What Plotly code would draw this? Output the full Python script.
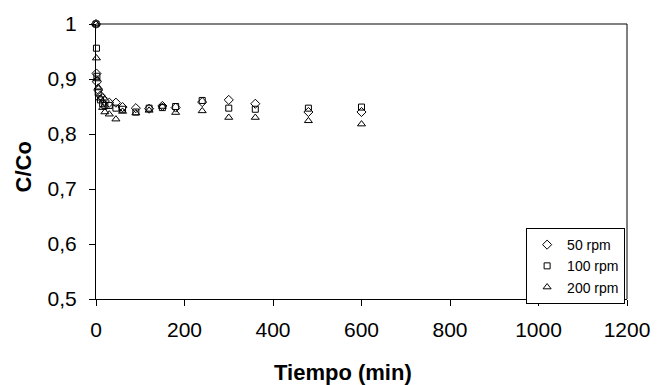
import plotly.graph_objects as go

tiempo = [0, 1, 2, 5, 10, 15, 20, 30, 45, 60, 90, 120, 150, 180, 240, 300, 360, 480, 600]
rpm50 = [1.0, 0.910, 0.895, 0.880, 0.870, 0.865, 0.860, 0.857, 0.857, 0.849, 0.847, 0.846, 0.851, 0.848, 0.858, 0.862, 0.855, 0.840, 0.840]
rpm100 = [1.0, 0.956, 0.905, 0.875, 0.862, 0.855, 0.852, 0.852, 0.847, 0.845, 0.840, 0.847, 0.848, 0.850, 0.861, 0.847, 0.845, 0.847, 0.849]
rpm200 = [1.0, 0.938, 0.900, 0.885, 0.865, 0.848, 0.840, 0.836, 0.827, 0.841, 0.838, 0.843, 0.850, 0.839, 0.842, 0.830, 0.830, 0.824, 0.818]

series = [("50 rpm", rpm50, "diamond-open", 7),
          ("100 rpm", rpm100, "square-open", 6),
          ("200 rpm", rpm200, "triangle-up-open", 7)]

fig = go.Figure()
for name, vals, sym, sz in series:
    fig.add_trace(go.Scatter(x=tiempo, y=vals, mode="markers", name=name,
                             cliponaxis=False,
                             marker=dict(symbol=sym, size=sz, color="black",
                                         line=dict(color="black", width=1))))

font = "Liberation Sans, Arial, sans-serif"
fig.update_layout(
    width=662, height=385,
    margin=dict(l=96, r=29, t=24, b=86),
    paper_bgcolor="white", plot_bgcolor="white",
    separators=",.",
    font=dict(family=font, size=21, color="black"),
    showlegend=True,
    legend=dict(x=0.81, y=0.258, xanchor="left", yanchor="top",
                bordercolor="black", borderwidth=1, bgcolor="white",
                font=dict(size=14), tracegroupgap=0, itemwidth=30),
    xaxis=dict(range=[0, 1200], tickvals=[0, 200, 400, 600, 800, 1000, 1200],
               showline=True, linecolor="black", linewidth=1,
               ticks="outside", ticklen=6, tickcolor="black",
               showgrid=False, zeroline=False, ticklabelstandoff=6),
    yaxis=dict(range=[0.5, 1.0], tickvals=[0.5, 0.6, 0.7, 0.8, 0.9, 1.0],
               showline=True, linecolor="black", linewidth=1,
               ticks="outside", ticklen=6, tickcolor="black",
               showgrid=False, zeroline=False, ticklabelstandoff=8),
    annotations=[
        dict(text="<b>Tiempo (min)</b>", xref="paper", yref="paper", x=0.465, y=0,
             yshift=-73, xanchor="center", yanchor="middle", showarrow=False,
             font=dict(size=22)),
        dict(text="<b>C/Co</b>", xref="paper", yref="paper", x=0, y=0.5,
             xshift=-73, yshift=-6, xanchor="center", yanchor="middle", showarrow=False,
             textangle=-90, font=dict(size=22)),
    ],
)
fig.add_shape(type="line", xref="paper", yref="paper", x0=0, x1=1, y0=1, y1=1,
              line=dict(color="#808080", width=2), layer="below")
fig.add_shape(type="line", xref="paper", yref="paper", x0=1, x1=1, y0=0, y1=1,
              line=dict(color="black", width=1), layer="below")
fig.write_html("out.html")
